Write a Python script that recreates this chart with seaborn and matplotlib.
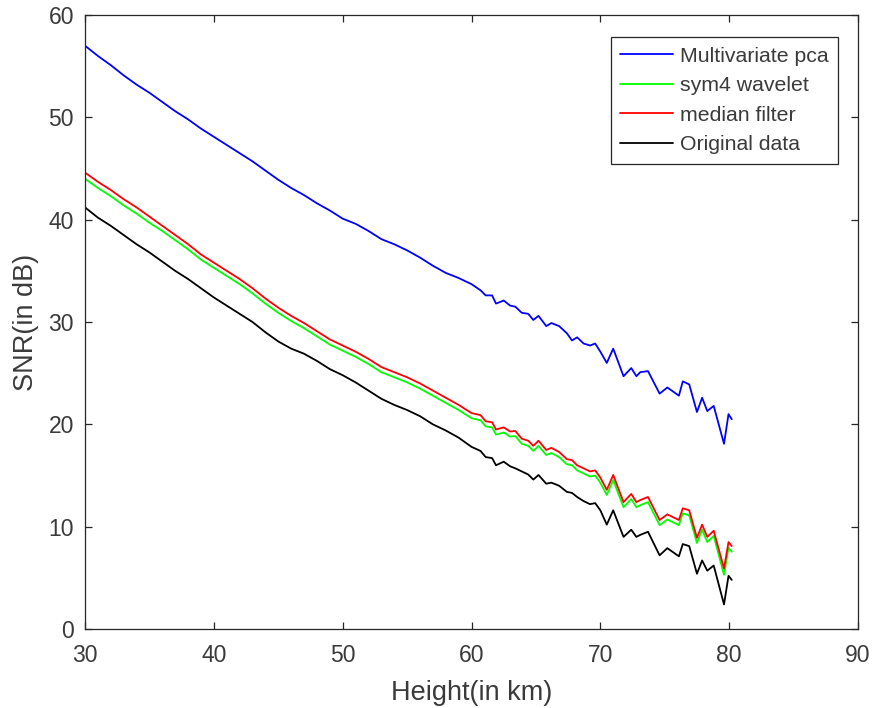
import matplotlib
matplotlib.use("Agg")
import matplotlib.pyplot as plt
import seaborn as sns
import pandas as pd

height_km = [30, 31, 32, 33, 34, 35, 36, 37, 38, 39, 40, 41, 42, 43, 44, 45, 46, 47, 48, 49,
             50, 51, 52, 53, 54, 55, 56, 57, 58, 59, 60,
             60.7, 61.1, 61.6, 61.9, 62.5, 63.0, 63.4, 63.9, 64.4, 64.8, 65.2, 65.8, 66.2,
             66.8, 67.4, 67.8, 68.2, 68.7, 69.2, 69.6, 70.0, 70.5, 71.0, 71.8, 72.4, 72.8,
             73.1, 73.7, 74.6, 75.2, 76.1, 76.4, 76.9, 77.5, 77.9, 78.3, 78.8, 79.6, 79.95, 80.2]

pca_snr = [57.0, 56.0, 55.1, 54.1, 53.2, 52.4, 51.5, 50.6, 49.8, 48.9, 48.1, 47.3, 46.5, 45.7,
           44.8, 43.9, 43.1, 42.4, 41.6, 40.9, 40.1, 39.6, 38.9, 38.1, 37.6, 37.0, 36.3, 35.5,
           34.8, 34.3, 33.7,
           33.1, 32.6, 32.6, 31.8, 32.1, 31.6, 31.5, 30.9, 30.8, 30.2, 30.6, 29.6, 29.9,
           29.6, 28.9, 28.2, 28.5, 27.9, 27.7, 27.9, 27.1, 26.0, 27.4, 24.7, 25.5, 24.7,
           25.1, 25.2, 23.0, 23.6, 22.8, 24.2, 23.9, 21.2, 22.6, 21.3, 21.8, 18.1, 21.0, 20.5]

median_snr = [44.6, 43.7, 42.9, 42.0, 41.2, 40.3, 39.4, 38.5, 37.6, 36.6, 35.8, 35.0, 34.2, 33.3,
              32.3, 31.4, 30.6, 29.9, 29.1, 28.3, 27.7, 27.1, 26.4, 25.6, 25.1, 24.6, 24.0, 23.3,
              22.6, 21.9, 21.1,
              20.9, 20.3, 20.2, 19.5, 19.7, 19.3, 19.35, 18.6, 18.4, 17.9, 18.4, 17.5, 17.7,
              17.3, 16.6, 16.5, 16.0, 15.7, 15.4, 15.5, 14.8, 13.6, 15.05, 12.4, 13.2, 12.4,
              12.6, 12.9, 10.65, 11.2, 10.65, 11.8, 11.6, 8.9, 10.2, 9.0, 9.6, 5.9, 8.5, 8.1]

wavelet_snr = [44.0, 43.1, 42.3, 41.4, 40.6, 39.7, 38.9, 38.0, 37.1, 36.1, 35.3, 34.5, 33.7, 32.8,
               31.8, 30.9, 30.1, 29.4, 28.6, 27.8, 27.2, 26.6, 25.9, 25.1, 24.6, 24.1, 23.5, 22.8,
               22.1, 21.4, 20.6,
               20.4, 19.8, 19.7, 19.0, 19.2, 18.8, 18.85, 18.1, 17.9, 17.4, 17.9, 17.0, 17.2,
               16.8, 16.1, 16.0, 15.5, 15.2, 14.9, 15.0, 14.3, 13.1, 14.55, 11.9, 12.7, 11.9,
               12.1, 12.4, 10.15, 10.7, 10.15, 11.3, 11.1, 8.4, 9.7, 8.5, 9.1, 5.3, 7.95, 7.55]

original_snr = [41.2, 40.2, 39.4, 38.5, 37.6, 36.8, 35.9, 35.0, 34.2, 33.3, 32.4, 31.6, 30.8, 30.0,
                29.0, 28.1, 27.4, 26.9, 26.2, 25.4, 24.8, 24.1, 23.3, 22.5, 21.9, 21.4, 20.8, 20.0,
                19.4, 18.7, 17.8,
                17.4, 16.8, 16.7, 16.0, 16.35, 15.9, 15.7, 15.4, 15.1, 14.6, 15.05, 14.2, 14.3,
                14.0, 13.4, 13.3, 12.9, 12.5, 12.2, 12.3, 11.6, 10.2, 11.6, 9.0, 9.7, 9.0,
                9.2, 9.5, 7.2, 7.9, 7.1, 8.3, 8.1, 5.4, 6.7, 5.7, 6.2, 2.4, 5.2, 4.8]

series_names = ["Multivariate pca", "sym4 wavelet", "median filter", "Original data"]
series_values = [pca_snr, wavelet_snr, median_snr, original_snr]
series_colors = ["#0000FF", "#00FF00", "#FF0000", "#000000"]

x_ticks = [30, 40, 50, 60, 70, 80, 90]
y_ticks = [0, 10, 20, 30, 40, 50, 60]

rows = []
for name, vals in zip(series_names, series_values):
    for h, v in zip(height_km, vals):
        rows.append({"Height": h, "SNR": v, "Method": name})
df = pd.DataFrame(rows)

sns.set_theme(style="white")
plt.rcParams["font.family"] = ["Liberation Sans", "DejaVu Sans"]

fig = plt.figure(figsize=(8.74, 7.08), dpi=100)
ax = fig.add_axes([85 / 874, 1 - 629 / 708, (858 - 85) / 874, (629 - 15) / 708])

sns.lineplot(data=df, x="Height", y="SNR", hue="Method", hue_order=series_names,
             palette=dict(zip(series_names, series_colors)), estimator=None, sort=False,
             linewidth=1.3, ax=ax)

ax.set_xlim(30, 90)
ax.set_ylim(0, 60)
ax.set_xticks(x_ticks)
ax.set_yticks(y_ticks)
edge = "#262626"
text_col = "#3a3a3a"
for s in ax.spines.values():
    s.set_visible(True)
    s.set_color(edge)
    s.set_linewidth(0.9)
ax.tick_params(direction="in", length=5, width=0.9, colors=edge, labelsize=16.5,
               top=True, right=True, bottom=True, left=True)
ax.tick_params(axis="x", pad=11)
ax.tick_params(axis="y", pad=8)
for lbl in ax.get_xticklabels() + ax.get_yticklabels():
    lbl.set_color(text_col)
ax.set_xlabel("Height(in km)", fontsize=19.5, color=text_col, labelpad=9)
ax.set_ylabel("SNR(in dB)", fontsize=19.5, color=text_col, labelpad=7)

leg = ax.legend(loc="upper right", bbox_to_anchor=((838 - 85) / 773, (629 - 37) / 614),
                borderaxespad=0, fontsize=15.3, fancybox=False, framealpha=1,
                edgecolor=edge, handlelength=2.5, handletextpad=0.3, labelspacing=0.5,
                borderpad=0.45)
leg.get_frame().set_linewidth(0.9)
for t in leg.get_texts():
    t.set_color(text_col)
for line in leg.get_lines():
    line.set_linewidth(1.3)

fig.savefig("out.png", dpi=100, facecolor="white")
